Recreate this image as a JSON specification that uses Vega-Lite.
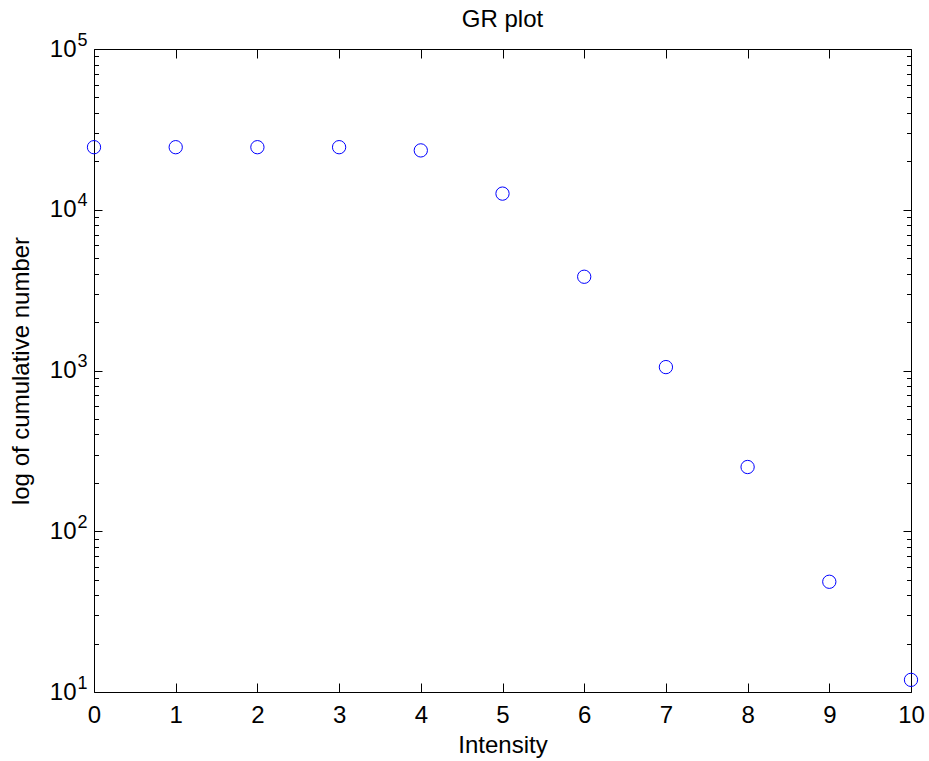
{
  "$schema": "https://vega.github.io/schema/vega-lite/v6.json",
  "width": 817,
  "height": 643,
  "autosize": {"type": "none"},
  "padding": {"left": 94, "top": 49, "right": 18, "bottom": 69},
  "background": "white",
  "title": {
    "text": "GR plot",
    "font": "Liberation Sans",
    "fontSize": 24,
    "fontWeight": "normal",
    "color": "black",
    "baseline": "alphabetic",
    "anchor": "middle",
    "frame": "group",
    "offset": -20
  },
  "config": {
    "view": {"stroke": null},
    "font": "Liberation Sans",
    "axis": {
      "grid": false,
      "domainColor": "black",
      "domainWidth": 1,
      "tickColor": "black",
      "tickWidth": 1,
      "labelColor": "black",
      "labelFont": "Liberation Sans",
      "labelFontSize": 24,
      "labelFlush": false,
      "labelOverlap": false,
      "labelBound": false,
      "titleColor": "black",
      "titleFont": "Liberation Sans",
      "titleFontSize": 24,
      "titleFontWeight": "normal"
    }
  },
  "data": {
    "values": [
      {"intensity": 0, "cumulative": 24500},
      {"intensity": 1, "cumulative": 24500},
      {"intensity": 2, "cumulative": 24500},
      {"intensity": 3, "cumulative": 24500},
      {"intensity": 4, "cumulative": 23400},
      {"intensity": 5, "cumulative": 12600},
      {"intensity": 6, "cumulative": 3830},
      {"intensity": 7, "cumulative": 1050},
      {"intensity": 8, "cumulative": 251},
      {"intensity": 9, "cumulative": 48.5},
      {"intensity": 10, "cumulative": 11.9}
    ]
  },
  "layer": [
    {
      "mark": {"type": "point", "shape": "circle", "filled": false, "color": "#0000ff", "size": 177, "strokeWidth": 1, "opacity": 1},
      "encoding": {
        "x": {
          "field": "intensity",
          "type": "quantitative",
          "scale": {"domain": [0, 10], "nice": false, "zero": false},
          "axis": {
            "orient": "bottom",
            "values": [0, 1, 2, 3, 4, 5, 6, 7, 8, 9, 10],
            "tickSize": -9,
            "labelPadding": 20,
            "labelBaseline": "top",
            "title": "Intensity",
            "titleBaseline": "alphabetic",
            "titleY": 60.7
          }
        },
        "y": {
          "field": "cumulative",
          "type": "quantitative",
          "scale": {"type": "log", "domain": [10, 100000], "nice": false},
          "axis": {
            "orient": "left",
            "values": [10, 20, 30, 40, 50, 60, 70, 80, 90, 100, 200, 300, 400, 500, 600, 700, 800, 900, 1000, 2000, 3000, 4000, 5000, 6000, 7000, 8000, 9000, 10000, 20000, 30000, 40000, 50000, 60000, 70000, 80000, 90000, 100000],
            "tickSize": {"condition": {"test": "datum.value == 10 || datum.value == 100 || datum.value == 1000 || datum.value == 10000 || datum.value == 100000", "value": -8}, "value": -4.5},
            "labels": false,
            "title": "log of cumulative number",
            "titleAngle": 270,
            "titleAlign": "center",
            "titleBaseline": "alphabetic",
            "titleX": -66,
            "titleY": 321.5
          }
        }
      }
    },
    {
      "mark": {"type": "point", "opacity": 0},
      "encoding": {
        "x": {
          "field": "intensity",
          "type": "quantitative",
          "axis": {
            "orient": "top",
            "values": [0, 1, 2, 3, 4, 5, 6, 7, 8, 9, 10],
            "tickSize": -9,
            "labels": false,
            "title": null
          }
        },
        "y": {
          "field": "cumulative",
          "type": "quantitative",
          "axis": {
            "orient": "right",
            "values": [10, 20, 30, 40, 50, 60, 70, 80, 90, 100, 200, 300, 400, 500, 600, 700, 800, 900, 1000, 2000, 3000, 4000, 5000, 6000, 7000, 8000, 9000, 10000, 20000, 30000, 40000, 50000, 60000, 70000, 80000, 90000, 100000],
            "tickSize": {"condition": {"test": "datum.value == 10 || datum.value == 100 || datum.value == 1000 || datum.value == 10000 || datum.value == 100000", "value": -8}, "value": -4.5},
            "labels": false,
            "title": null
          }
        }
      }
    },
    {
      "mark": {"type": "point", "opacity": 0},
      "encoding": {
        "y": {
          "field": "cumulative",
          "type": "quantitative",
          "axis": {
            "orient": "left",
            "values": [10, 100, 1000, 10000, 100000],
            "domain": false,
            "ticks": false,
            "labelExpr": "'10'",
            "labelAlign": "right",
            "labelBaseline": "middle",
            "labelPadding": 18,
            "title": null
          }
        }
      }
    },
    {
      "mark": {"type": "point", "opacity": 0},
      "encoding": {
        "y": {
          "field": "cumulative",
          "type": "quantitative",
          "axis": {
            "orient": "left",
            "values": [10, 100, 1000, 10000, 100000],
            "domain": false,
            "ticks": false,
            "labelExpr": "'' + round(log(datum.value) / LN10)",
            "labelFontSize": 18,
            "labelAlign": "left",
            "labelBaseline": "middle",
            "labelPadding": 17,
            "labelOffset": -9,
            "title": null
          }
        }
      }
    }
  ],
  "resolve": {"axis": {"x": "independent", "y": "independent"}}
}
